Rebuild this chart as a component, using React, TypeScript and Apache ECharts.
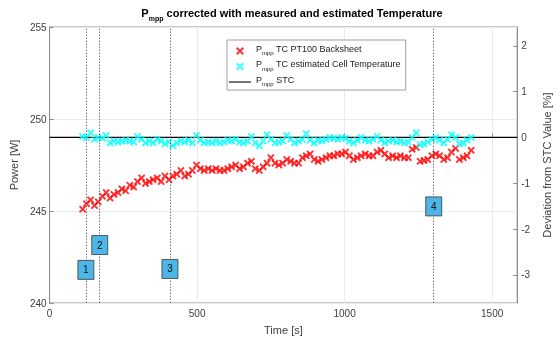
import React, { useEffect, useRef } from 'react';
import * as echarts from 'echarts';

const times = [
  112, 125, 139, 152, 165, 179, 192, 205, 218, 232,
  245, 258, 272, 285, 298, 312, 325, 338, 351, 365,
  378, 391, 405, 418, 431, 445, 458, 471, 484, 498,
  511, 524, 538, 551, 564, 578, 591, 604, 617, 631,
  644, 657, 671, 684, 697, 711, 724, 737, 750, 764,
  777, 790, 804, 817, 830, 844, 857, 870, 883, 897,
  910, 923, 937, 950, 963, 977, 990, 1003, 1016, 1030,
  1043, 1056, 1070, 1083, 1096, 1110, 1123, 1136, 1149, 1163,
  1176, 1189, 1203, 1216, 1229, 1243, 1256, 1269, 1282, 1296,
  1309, 1322, 1336, 1349, 1362, 1376, 1389, 1402, 1415, 1429,
];

const pt100Backsheet = [
  245.1, 245.4, 245.6, 245.3, 245.5, 245.8, 246.0, 245.7, 245.9, 246.0,
  246.2, 246.1, 246.4, 246.3, 246.6, 246.8, 246.5, 246.6, 246.7, 246.8,
  246.6, 246.9, 246.7, 246.9, 247.0, 247.2, 246.9, 247.0, 247.2, 247.5,
  247.3, 247.2, 247.3, 247.2, 247.3, 247.2, 247.2, 247.3, 247.4, 247.5,
  247.3, 247.4, 247.6, 247.7, 247.3, 247.2, 247.4, 247.6, 247.9, 247.6,
  247.5, 247.6, 247.8, 247.7, 247.6, 247.6, 247.9, 248.0, 248.1, 247.8,
  247.7, 247.8, 247.9, 248.0, 248.0, 248.1, 248.1, 248.2, 248.0, 247.8,
  247.9, 248.0, 248.1, 248.0, 248.0, 248.2, 248.3, 248.1, 247.9, 248.0,
  247.9, 248.0, 247.9, 247.9, 248.35, 248.45, 247.7, 247.75, 247.8, 248.0,
  248.1, 248.0, 247.8, 247.9, 248.2, 248.4, 247.8, 247.9, 248.0, 248.3,
];

const estimatedCell = [
  249.05, 249.0, 249.25, 248.9, 249.0, 248.95, 249.1, 248.7, 248.8, 248.75,
  248.8, 248.85, 248.8, 248.75, 249.05, 248.9, 248.7, 248.8, 248.7, 248.9,
  248.8, 248.65, 248.75, 248.55, 248.7, 248.8, 248.75, 248.85, 248.7, 249.1,
  248.85, 248.7, 248.75, 248.7, 248.8, 248.7, 248.75, 248.85, 248.8, 248.9,
  248.75, 248.7, 248.8, 249.05, 248.7, 248.55, 248.8, 249.15, 248.9, 248.7,
  248.75, 248.8, 249.1, 248.9, 248.7, 248.8, 248.9, 249.2, 248.85, 248.7,
  248.85, 248.8, 248.9, 249.0, 248.95, 248.9, 249.0, 248.95, 248.8, 248.7,
  248.85, 249.0, 248.85, 248.8, 248.9, 249.05, 248.85, 248.7, 248.8, 248.85,
  248.75, 248.8, 248.7, 248.75, 249.0, 249.25, 248.6, 248.65, 248.75, 248.9,
  249.0, 248.85, 248.7, 248.9, 249.15, 249.0, 248.65, 248.7, 248.85, 249.0,
];

const stcPower = 249;

const eventTimes = [123, 170, 408, 1302];
const eventLabels = ['1', '2', '3', '4'];
const eventLabelPower = [241.8, 243.15, 241.85, 245.25];

const xMin = 0;
const xMax = 1585;
const xInterval = 500;
const yMin = 240;
const yMax = 255;
const yInterval = 5;

const seriesNames = [
  'Pmpp TC PT100 Backsheet',
  'Pmpp TC estimated Cell Temperature',
  'Pmpp STC',
];
const legendSuffix: Record<string, string> = {
  'Pmpp TC PT100 Backsheet': ' TC PT100 Backsheet',
  'Pmpp TC estimated Cell Temperature': ' TC estimated Cell Temperature',
  'Pmpp STC': ' STC',
};

const FONT = 'Liberation Sans, Arial, Helvetica, sans-serif';
const AXIS_COLOR = '#8c8c8c';
const TEXT_COLOR = '#404040';
const GRID_COLOR = '#ebebeb';
const X_SYMBOL =
  'path://M0,1.8 L1.8,0 L5,3.2 L8.2,0 L10,1.8 L6.8,5 L10,8.2 L8.2,10 L5,6.8 L1.8,10 L0,8.2 L3.2,5 Z';
const LINE_ICON = 'path://M0,0 L100,0 L100,5 L0,5 Z';

export default function App() {
  const ref = useRef<HTMLDivElement>(null);

  useEffect(() => {
    const chart = echarts.init(ref.current!, null, { renderer: 'svg' });
    const devMin = ((yMin - stcPower) / stcPower) * 100;
    const devMax = ((yMax - stcPower) / stcPower) * 100;

    const option: any = {
      animation: false,
      textStyle: { fontFamily: FONT },
      title: {
        text: '{b|P}{s|mpp}{b| corrected with measured and estimated Temperature}',
        left: 287,
        top: 5,
        textAlign: 'center',
        textStyle: {
          fontFamily: FONT,
          rich: {
            b: { fontSize: 11, fontWeight: 'bold', color: '#000', fontFamily: FONT, lineHeight: 12, padding: [0, 0, 4, 0], verticalAlign: 'bottom' },
            s: { fontSize: 7, fontWeight: 'bold', color: '#000', fontFamily: FONT, lineHeight: 10, verticalAlign: 'bottom' },
          },
        },
      },
      legend: {
        orient: 'vertical',
        left: 227,
        top: 40,
        itemWidth: 22,
        itemHeight: 8,
        itemGap: 3.5,
        padding: [4, 5, 3, 2],
        borderColor: '#888',
        borderWidth: 0.8,
        backgroundColor: '#fff',
        data: [
          { name: seriesNames[0] },
          { name: seriesNames[1] },
          { name: seriesNames[2], icon: LINE_ICON, itemStyle: { color: '#000' } },
        ],
        formatter: (name: string) => `{p|P}{s|mpp}{t|${legendSuffix[name]}}`,
        textStyle: {
          fontFamily: FONT,
          rich: {
            p: { fontSize: 9, color: '#222', fontFamily: FONT, lineHeight: 10, padding: [0, 0, 3, 0], verticalAlign: 'bottom' },
            s: { fontSize: 6, color: '#222', fontFamily: FONT, lineHeight: 8, verticalAlign: 'bottom' },
            t: { fontSize: 9, color: '#222', fontFamily: FONT, lineHeight: 10, padding: [0, 0, 3, 0], verticalAlign: 'bottom' },
          },
        },
      },
      grid: {
        left: 47.7,
        right: 34.3,
        top: 27,
        bottom: 35,
        show: true,
        borderColor: AXIS_COLOR,
        borderWidth: 1,
      },
      xAxis: {
        type: 'value',
        min: xMin,
        max: xMax,
        interval: xInterval,
        name: 'Time [s]',
        nameLocation: 'middle',
        nameGap: 21,
        nameTextStyle: { fontSize: 11, color: TEXT_COLOR, fontFamily: FONT },
        axisLine: { show: true, lineStyle: { color: AXIS_COLOR } },
        axisTick: { show: true, inside: true, length: 4, lineStyle: { color: AXIS_COLOR } },
        axisLabel: {
          fontSize: 10,
          color: TEXT_COLOR,
          margin: 5,
          showMaxLabel: false,
          formatter: (v: number) => String(v),
        },
        splitLine: { show: true, lineStyle: { color: GRID_COLOR } },
      },
      yAxis: [
        {
          type: 'value',
          min: yMin,
          max: yMax,
          interval: yInterval,
          name: 'Power [W]',
          nameLocation: 'middle',
          nameRotate: 90,
          nameGap: 26,
          nameTextStyle: { fontSize: 11, color: TEXT_COLOR, fontFamily: FONT },
          axisLine: { show: true, lineStyle: { color: AXIS_COLOR } },
          axisTick: { show: true, inside: true, length: 4, lineStyle: { color: AXIS_COLOR } },
          axisLabel: { fontSize: 10, color: TEXT_COLOR, margin: 3 },
          splitLine: { show: true, lineStyle: { color: GRID_COLOR } },
        },
        {
          type: 'value',
          position: 'right',
          min: devMin,
          max: devMax,
          splitNumber: 6,
          name: 'Deviation from STC Value [%]',
          nameLocation: 'middle',
          nameRotate: 90,
          nameGap: 14,
          nameTextStyle: { fontSize: 11, color: TEXT_COLOR, fontFamily: FONT },
          axisLine: { show: true, lineStyle: { color: AXIS_COLOR } },
          axisTick: { show: true, inside: true, length: 4, lineStyle: { color: AXIS_COLOR } },
          axisLabel: {
            fontSize: 10,
            color: TEXT_COLOR,
            margin: 4,
            showMinLabel: false,
            showMaxLabel: false,
            formatter: (v: number) => String(Math.round(v)),
          },
          splitLine: { show: false },
        },
      ],
      series: [
        {
          name: seriesNames[0],
          type: 'scatter',
          data: times.map((t, i) => [t, pt100Backsheet[i]]),
          symbol: X_SYMBOL,
          symbolSize: 7.5,
          itemStyle: { color: '#ff0000' },
        },
        {
          name: seriesNames[1],
          type: 'scatter',
          data: times.map((t, i) => [t, estimatedCell[i]]),
          symbol: X_SYMBOL,
          symbolSize: 7.5,
          itemStyle: { color: '#00ffff' },
        },
        {
          name: seriesNames[2],
          type: 'line',
          data: [
            [xMin, stcPower],
            [xMax, stcPower],
          ],
          symbol: 'none',
          lineStyle: { color: '#000', width: 1.2 },
          itemStyle: { color: '#000' },
          z: 1,
          markLine: {
            silent: true,
            symbol: ['none', 'none'],
            label: { show: false },
            lineStyle: { type: [1.5, 1.5], color: '#555', width: 0.8 },
            data: eventTimes.map((t) => ({ xAxis: t })),
          },
          markPoint: {
            symbol: 'rect',
            symbolSize: [16, 19],
            itemStyle: { color: '#4db6e6', borderColor: '#3a3a3a', borderWidth: 0.8 },
            label: {
              show: true,
              formatter: '{b}',
              color: '#111',
              fontSize: 10,
              fontFamily: FONT,
            },
            data: eventTimes.map((t, i) => ({
              name: eventLabels[i],
              coord: [t, eventLabelPower[i]],
            })),
          },
        },
      ],
    };

    chart.setOption(option);
    return () => chart.dispose();
  }, []);

  return (
    <div
      ref={ref}
      style={{ position: 'fixed', left: 0, top: 0, width: 560, height: 340 }}
    />
  );
}
